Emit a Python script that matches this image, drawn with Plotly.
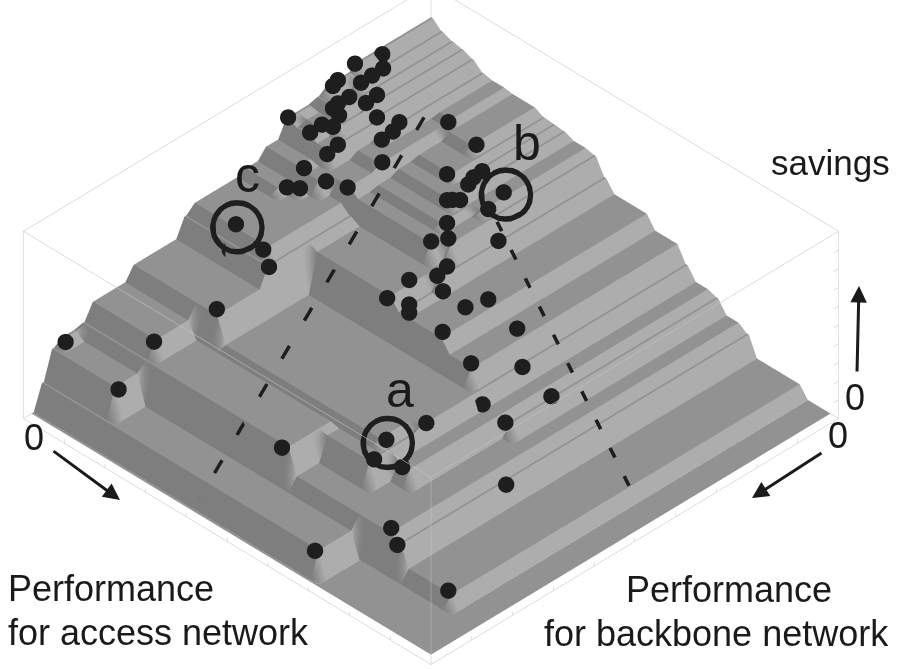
import numpy as np
import plotly.graph_objects as go

# solutions: performance for access / backbone network and savings (all 0..1)
access = [.003, 0, .029, .03, .031, .001, .007, .064, .038, .067, .037, .041, .059, .102, 0, .053, .071, .051,
          .124, .135, .138, .102, .108, .178, .089, .139, .178, .088, .106, .093, .1, .178, .205, .191,
          .394, .404, .423, .438, .375, .39, .273, .322, .361, .18, .42, .413, .436, .518,
          .258, .308, .31, .316, .368, .383, .424, .334, .326, .508, .496, .579, .593, .633, .698, .636, .695, .786,
          .892, .013, .155, .163, .497, .614, .63, .665, .629, .745, .775, .675]
backbone = [.123, .187, .147, .175, .203, .23, .248, .197, .239, .227, .266, .282, .285, .235, .351, .321, .312, .348,
            .202, .229, .259, .331, .363, .298, .401, .397, .383, .442, .428, .572, .594, .59, .603, .717,
            .448, .512, .477, .492, .375, .348, .234, .283, .322, .138, .405, .374, .407, .49,
            .147, .183, .206, .225, .19, .243, .259, .263, .274, .368, .412, .368, .495, .409, .403, .51, .513, .602,
            .85, .91, .835, .93, .863, .724, .77, .736, .641, .843, .858, .96]
savings = [.8, .83, .79, .79, .79, .8, .8, .76, .77, .76, .77, .77, .76, .74, .758, .75, .75, .74,
           .7, .7, .7, .72, .72, .683, .67, .66, .66, .62, .62, .6, .5, .6, .56, .466,
           .535, .535, .48, .476, .62, .62, .66, .65, .63, .69, .535, .535, .476, .476,
           .683, .655, .655, .65, .63, .63, .535, .64, .645, .476, .476, .413, .413, .333, .254, .27, .254, .159,
           .058, .31, .4, .28, .32, .333, .31, .27, .333, .19, .159, .13]

# the three marked solutions, shifted along the line of sight so the rings stay in front
ring_access = [.772, .51, .247]
ring_backbone = [.882, .33, .726]
ring_savings = [.733, .99, .99]

dash1_access = [.256, .432]
dash1_backbone = [.273, 1]
dash1_savings = [.99, .14]
dash2_access = [.558, 1]
dash2_backbone = [.396, .491]
dash2_savings = [.99, .185]

box_x = [0, 1, 1, 0, 0, 0, 1, 1, 0, 0, None, 1, 1, None, 1, 1, None, 0, 0]
box_y = [0, 0, 1, 1, 0, 0, 0, 1, 1, 0, None, 0, 0, None, 1, 1, None, 1, 1]
box_z = [0, 0, 0, 0, 0, 1, 1, 1, 1, 1, None, 0, 1, None, 0, 1, None, 0, 1]

tick_levels = [.1, .2, .3, .4, .5, .6, .7, .8, .9]

W, H = 898, 669
STEP = .025
RAMP = .02
EDGE = .001
NUDGE = .012  # dots sit slightly towards the viewer so the terraces don't cut them

# surface: best savings reachable at or beyond each performance pair, with short ramps between terraces
levels = np.arange(40) * STEP
acc = np.array(access)
bb = np.array(backbone)
sav = np.array(savings)
top = np.zeros((40, 40))
for a, b, s in zip(acc, bb, sav):
    mask = np.outer(levels <= a + .01, levels <= b + .01)
    top[mask] = np.maximum(top[mask], s)

nodes = np.ravel(np.column_stack([levels, levels + EDGE, levels + STEP - RAMP - EDGE, levels + STEP - RAMP]))
z = np.repeat(np.repeat(top, 4, axis=0), 4, axis=1)

# face colours: 0 wall facing the backbone side, 1 flat, 2 wall facing the access side
da = np.zeros_like(z)
db = np.zeros_like(z)
da[:-1, :] = np.abs(z[:-1, :] - z[1:, :])
da[1:, :] = np.maximum(da[1:, :], np.abs(z[:-1, :] - z[1:, :]))
db[:, :-1] = np.abs(z[:, :-1] - z[:, 1:])
db[:, 1:] = np.maximum(db[:, 1:], np.abs(z[:, :-1] - z[:, 1:]))
shade = np.ones_like(z)
shade[db > 1e-6] = 0
shade[(da > 1e-6) & (da >= db)] = 2

tick_x, tick_y, tick_z = [], [], []
for t in tick_levels:
    tick_x += [1, 1, None, t, t, None, 0, .012, None]
    tick_y += [t, t, None, 1, 1, None, 1, 1, None]
    tick_z += [0, .02, None, 0, .02, None, t, t, None]

fig = go.Figure()
fig.add_trace(go.Surface(
    x=nodes, y=nodes, z=z, surfacecolor=shade, cmin=0, cmax=2, showscale=False,
    colorscale=[[0, '#7e7e7e'], [.5, '#929292'], [1, '#adadad']],
    lighting=dict(ambient=1, diffuse=0, specular=0, roughness=1, fresnel=0),
    hoverinfo='skip'))
fig.add_trace(go.Scatter3d(
    x=box_x, y=box_y, z=box_z, mode='lines', line=dict(color='#c4c4c4', width=1), hoverinfo='skip'))
fig.add_trace(go.Scatter3d(
    x=tick_x, y=tick_y, z=tick_z, mode='lines', line=dict(color='#c4c4c4', width=1), hoverinfo='skip'))
fig.add_trace(go.Scatter3d(
    x=bb + NUDGE, y=acc + NUDGE, z=sav + NUDGE * 2.54, mode='markers',
    marker=dict(color='#1e1e1e', size=9.5, line=dict(width=0)), hoverinfo='skip'))
fig.add_trace(go.Scatter3d(
    x=ring_backbone, y=ring_access, z=ring_savings, mode='markers',
    marker=dict(color='#1e1e1e', size=31, symbol='circle-open'), hoverinfo='skip'))
for xs, ys, zs in [(dash1_backbone, dash1_access, dash1_savings), (dash2_backbone, dash2_access, dash2_savings)]:
    fig.add_trace(go.Scatter3d(
        x=xs, y=ys, z=zs, mode='lines', line=dict(color='#1e1e1e', width=7, dash='longdash'), hoverinfo='skip'))

hidden = dict(visible=False, range=[0, 1], autorange=False)
fig.update_layout(
    width=W, height=H, margin=dict(l=0, r=0, t=0, b=0), showlegend=False,
    paper_bgcolor='white',
    font=dict(family='Liberation Sans', color='#1a1a1a'),
    scene=dict(
        domain=dict(x=[0, 862 / W], y=[0, 1]),
        xaxis=hidden, yaxis=hidden, zaxis=hidden,
        aspectmode='manual', aspectratio=dict(x=1.723, y=1.723, z=.702),
        camera=dict(eye=dict(x=1.08, y=1.08, z=1.12), up=dict(x=0, y=0, z=1),
                    center=dict(x=0, y=0, z=-.036), projection=dict(type='orthographic')),
    ),
)


def label(text, x, y, size, align='center'):
    fig.add_annotation(text=text, x=x / W, y=1 - y / H, xref='paper', yref='paper', showarrow=False,
                       font=dict(size=size), align=align, xanchor='center', yanchor='middle')


def arrow(x0, y0, x1, y1):
    fig.add_annotation(x=x1 / W, y=1 - y1 / H, ax=x0 - x1, ay=y0 - y1, xref='paper', yref='paper', text='',
                       showarrow=True, arrowhead=2, arrowwidth=3, arrowsize=1.1, arrowcolor='#1a1a1a')


label('savings', 830, 162, 35)
label('Performance', 111, 588, 36)
label('for access network', 158, 632, 36)
label('Performance', 729, 589, 36)
label('for backbone network', 716, 633, 36)
label('a', 400, 390, 50)
label('b', 527, 143, 50)
label('c', 247, 175, 50)
label('0', 34, 437, 36)
label('0', 838, 435, 36)
label('0', 855, 397, 36)
arrow(52, 450, 120, 500)
arrow(823, 452, 752, 498)
arrow(857, 373, 859, 286)

# the page's default body margin would push the figure 8 px in
fig.write_html("out.html", config=dict(displayModeBar=False), post_script="document.body.style.margin = '0';")
